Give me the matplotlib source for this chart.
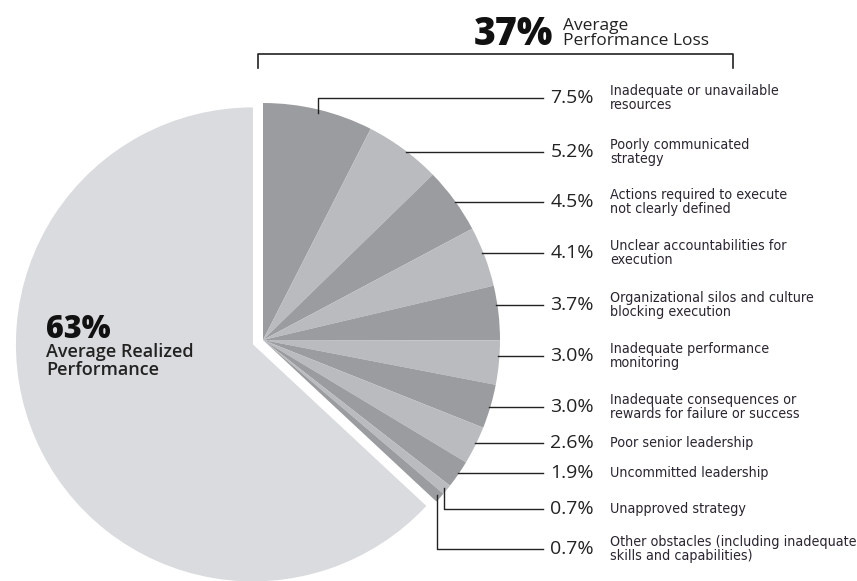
import numpy as np
import matplotlib
matplotlib.use('Agg')
import matplotlib.pyplot as plt
from matplotlib import font_manager as fm

W, H = 857, 581

realized = 63
loss_total = 37
loss_values = [7.5, 5.2, 4.5, 4.1, 3.7, 3.0, 3.0, 2.6, 1.9, 0.7, 0.7]
loss_labels = [
    "Inadequate or unavailable\nresources",
    "Poorly communicated\nstrategy",
    "Actions required to execute\nnot clearly defined",
    "Unclear accountabilities for\nexecution",
    "Organizational silos and culture\nblocking execution",
    "Inadequate performance\nmonitoring",
    "Inadequate consequences or\nrewards for failure or success",
    "Poor senior leadership",
    "Uncommitted leadership",
    "Unapproved strategy",
    "Other obstacles (including inadequate\nskills and capabilities)",
]

# rows of the labels, pixels from the top
label_y = [98, 152, 202, 253, 305, 356, 407, 443, 473, 509, 549]

dark, light, pale = '#9a9c9f', '#b9bbbe', '#d9dbde'
ink = '#222222'
sans = ['Open Sans', 'DejaVu Sans']


def narrow_font():
    # look for a condensed face, the labels in the original are narrow
    fonts = fm.fontManager.ttflist
    for f in fonts:
        if f.name == 'Liberation Sans Narrow' and f.style == 'normal' and f.weight in (400, 'normal', 'regular'):
            return fm.FontProperties(fname=f.fname)
    for f in fonts:
        if (('Condensed' in f.name or 'Narrow' in f.name or f.stretch in ('condensed', 'semi-condensed'))
                and f.style == 'normal' and f.weight in (400, 'normal', 'regular')):
            return fm.FontProperties(fname=f.fname)
    return fm.FontProperties(family='Roboto')


fig = plt.figure(figsize=(W / 100, H / 100), dpi=100)
ax = fig.add_axes([0, 0, 1, 1])

cx, cy, r = 263, H - 340, 237
values = loss_values + [realized]
colors = [dark if i % 2 == 0 else light for i in range(len(loss_values))] + [pale]
explode = [0] * len(loss_values) + [11]
wedges, _ = ax.pie(values, colors=colors, explode=explode, startangle=90,
                   counterclock=False, center=(cx, cy), radius=r, frame=True,
                   wedgeprops=dict(linewidth=0))
ax.set_xlim(0, W)
ax.set_ylim(0, H)
ax.set_aspect('equal')
ax.axis('off')

# leader lines and labels
line_end = 543
desc = []
for i, v in enumerate(loss_values):
    w = wedges[i]
    ly = H - label_y[i]
    dy = ly - cy
    th = None
    if abs(dy) < r:
        t = np.degrees(np.arcsin(dy / r))
        if w.theta1 <= t <= w.theta2:
            th = t
    if th is not None:
        x0 = cx + np.sqrt(r ** 2 - dy ** 2) - 1
        ax.plot([x0, line_end], [ly, ly], color=ink, lw=1)
    else:
        mid = np.radians((w.theta1 + w.theta2) / 2)
        x0 = cx + 0.985 * r * np.cos(mid)
        y0 = cy + 0.985 * r * np.sin(mid)
        ax.plot([x0, x0, line_end], [y0, ly, ly], color=ink, lw=1)
    ax.text(594, ly, f"{v:.1f}%", ha='right', va='center', fontsize=14,
            family=sans, color=ink)
    fp = narrow_font()
    fp.set_size(11.5)
    desc.append(ax.text(610, ly, loss_labels[i], ha='left', va='center',
                        fontproperties=fp, color='#2a2530', linespacing=1.05))

# shrink the labels if the font found is wider than the original one
renderer = fig.canvas.get_renderer()
widest = max(t.get_window_extent(renderer).width for t in desc)
if widest > 245:
    for t in desc:
        t.set_fontsize(11.5 * 245 / widest)

# bracket over the lost part
ax.plot([258, 258, 733, 733], [H - 68, H - 54, H - 54, H - 68], color=ink, lw=1.2)
ax.text(553, H - 45, f"{loss_total}%", ha='right', va='baseline', fontsize=27,
        fontweight='heavy', family=sans, color='#111111')
ax.text(563, H - 30, "Average", ha='left', va='baseline', fontsize=12.5,
        family=sans, color=ink)
ax.text(563, H - 45, "Performance Loss", ha='left', va='baseline', fontsize=12.5,
        family=sans, color=ink)

# realized part
ax.text(46, H - 338, f"{realized}%", ha='left', va='baseline', fontsize=22,
        fontweight='heavy', family=sans, color='#111111')
ax.text(46, H - 357, "Average Realized", ha='left', va='baseline',
        fontsize=13, fontweight='semibold', family=sans, color=ink)
ax.text(46, H - 375, "Performance", ha='left', va='baseline',
        fontsize=13, fontweight='semibold', family=sans, color=ink)

fig.savefig('out.png', dpi=100)
plt.close(fig)
